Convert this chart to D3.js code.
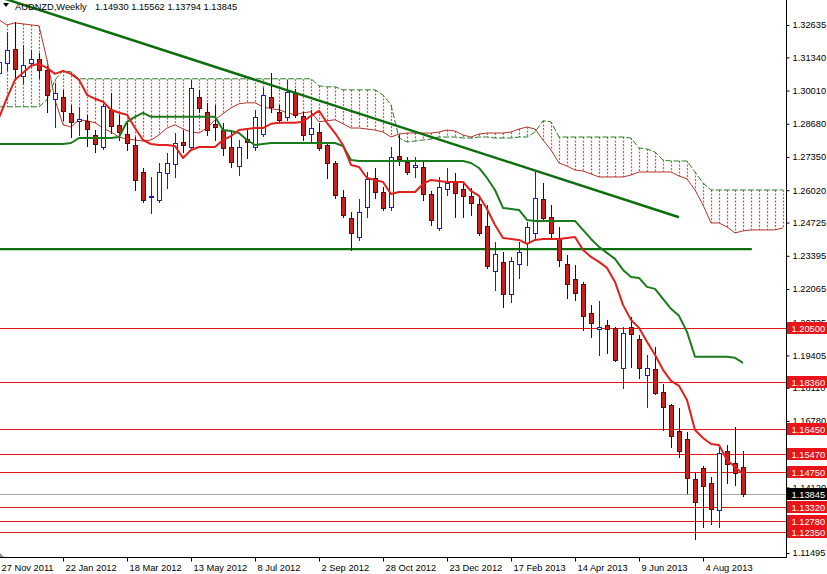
<!DOCTYPE html>
<html><head><meta charset="utf-8">
<script src="https://cdn.jsdelivr.net/npm/d3@7"></script>
<style>body{margin:0;background:#fff;} svg{display:block;}</style>
</head><body><svg id="c" width="827" height="574"></svg>
<script>
const symbolTitle = "AUDNZD,Weekly";
const lastQuote = "1.14930 1.15562 1.13794 1.13845";

const open = [1.3072,1.3112,1.3168,1.3060,1.3112,1.3128,1.3084,1.2968,1.2976,1.2912,
1.2880,1.2880,1.2823,1.2775,1.2924,1.2864,1.2827,1.2783,1.2675,1.2575,
1.2563,1.2671,1.2707,1.2795,1.2775,1.2976,1.2916,1.2868,1.2843,1.2775,
1.2699,1.2807,1.2775,1.2827,1.2976,1.2916,1.2896,1.2992,1.2900,1.2827,
1.2835,1.2783,1.2711,1.2575,1.2491,1.2415,1.2535,1.2651,1.2595,1.2535,
1.2739,1.2715,1.2695,1.2695,1.2587,1.2451,1.2607,1.2635,1.2607,1.2579,
1.2547,1.2459,1.2279,1.2315,1.2187,1.2307,1.2391,1.2431,1.2567,1.2495,
1.2411,1.2307,1.2247,1.2227,1.2111,1.2047,1.2063,1.2051,1.1891,1.2055,
1.2007,1.1862,1.1887,1.1794,1.1742,1.1638,1.1606,1.1446,1.1490,1.1430,
1.1322,1.1558,1.1510,1.14930];
const high = [1.3144,1.3236,1.3276,1.3184,1.3164,1.3152,1.3100,1.3032,1.3004,1.2944,
1.2936,1.2904,1.2843,1.2948,1.2992,1.2904,1.2872,1.2815,1.2691,1.2655,
1.2711,1.2751,1.2831,1.2843,1.3044,1.3004,1.2952,1.2944,1.2872,1.2843,
1.2803,1.2843,1.2924,1.3012,1.3072,1.2944,1.3044,1.3008,1.2916,1.2924,
1.2872,1.2795,1.2719,1.2603,1.2515,1.2567,1.2675,1.2691,1.2615,1.2775,
1.2823,1.2735,1.2735,1.2715,1.2599,1.2655,1.2691,1.2671,1.2635,1.2611,
1.2575,1.2543,1.2395,1.2355,1.2335,1.2395,1.2475,1.2675,1.2631,1.2543,
1.2455,1.2343,1.2303,1.2235,1.2143,1.2159,1.2083,1.2055,1.2055,1.2095,
1.2023,1.1943,1.1975,1.1826,1.1746,1.1730,1.1634,1.1470,1.1498,1.1454,
1.1574,1.1582,1.1654,1.15562];
const low = [1.3052,1.3084,1.3052,1.3032,1.3100,1.3052,1.2916,1.2855,1.2884,1.2815,
1.2823,1.2779,1.2755,1.2767,1.2831,1.2803,1.2763,1.2603,1.2555,1.2511,
1.2555,1.2611,1.2655,1.2755,1.2771,1.2916,1.2823,1.2803,1.2743,1.2695,
1.2663,1.2731,1.2763,1.2819,1.2916,1.2872,1.2884,1.2896,1.2803,1.2795,
1.2763,1.2651,1.2571,1.2495,1.2363,1.2403,1.2495,1.2571,1.2523,1.2523,
1.2703,1.2667,1.2655,1.2563,1.2463,1.2443,1.2583,1.2495,1.2495,1.2503,
1.2423,1.2291,1.2203,1.2135,1.2155,1.2251,1.2303,1.2403,1.2483,1.2411,
1.2299,1.2171,1.2163,1.2043,1.2015,1.1943,1.1951,1.1919,1.1810,1.1895,
1.1850,1.1734,1.1786,1.1642,1.1574,1.1534,1.1390,1.1206,1.1254,1.1266,
1.1254,1.1430,1.1422,1.13794];
const close = [1.3116,1.3164,1.3088,1.3104,1.3128,1.3084,1.2984,1.2992,1.2920,1.2876,
1.2888,1.2847,1.2787,1.2940,1.2859,1.2835,1.2791,1.2643,1.2563,1.2579,
1.2675,1.2711,1.2791,1.2783,1.3012,1.2932,1.2843,1.2855,1.2771,1.2715,
1.2775,1.2795,1.2896,1.2984,1.2936,1.2884,1.2996,1.2904,1.2823,1.2851,
1.2771,1.2711,1.2583,1.2503,1.2431,1.2515,1.2647,1.2595,1.2531,1.2735,
1.2727,1.2675,1.2703,1.2587,1.2483,1.2615,1.2631,1.2591,1.2579,1.2551,
1.2431,1.2299,1.2347,1.2187,1.2319,1.2355,1.2455,1.2571,1.2491,1.2431,
1.2323,1.2227,1.2191,1.2099,1.2071,1.2055,1.2047,1.1923,1.2031,1.2027,
1.1891,1.1891,1.1790,1.1734,1.1618,1.1558,1.1450,1.1354,1.1418,1.1326,
1.1550,1.1506,1.1470,1.13845];

const tenkan = [1.2892,1.2972,1.3044,1.3072,1.3100,1.3108,1.3092,1.3068,1.3080,1.3068,
1.3044,1.2984,1.2968,1.2956,1.2924,1.2912,1.2904,1.2851,1.2803,1.2787,
1.2783,1.2783,1.2779,1.2731,1.2763,1.2775,1.2775,1.2775,1.2803,1.2819,
1.2843,1.2847,1.2851,1.2851,1.2868,1.2872,1.2872,1.2872,1.2876,1.2900,
1.2920,1.2872,1.2831,1.2783,1.2703,1.2695,1.2651,1.2643,1.2635,1.2587,
1.2595,1.2595,1.2595,1.2627,1.2643,1.2639,1.2635,1.2635,1.2635,1.2599,
1.2579,1.2527,1.2463,1.2411,1.2407,1.2403,1.2387,1.2403,1.2407,1.2407,
1.2407,1.2411,1.2415,1.2363,1.2335,1.2315,1.2291,1.2235,1.2143,1.2083,
1.2051,1.1995,1.1943,1.1883,1.1839,1.1819,1.1762,1.1642,1.1610,1.1586,
1.1582,1.1522,1.1494,1.1466];

const kijun = [1.2787,1.2787,1.2787,1.2787,1.2787,1.2787,1.2787,1.2787,1.2787,1.2791,
1.2811,1.2811,1.2811,1.2811,1.2811,1.2815,1.2876,1.2896,1.2912,1.2896,
1.2896,1.2896,1.2896,1.2896,1.2896,1.2896,1.2896,1.2896,1.2843,1.2839,
1.2831,1.2803,1.2783,1.2787,1.2791,1.2791,1.2791,1.2791,1.2791,1.2791,
1.2791,1.2791,1.2791,1.2779,1.2723,1.2719,1.2719,1.2719,1.2719,1.2719,
1.2719,1.2719,1.2719,1.2719,1.2719,1.2719,1.2719,1.2719,1.2719,1.2711,
1.2691,1.2651,1.2603,1.2531,1.2527,1.2523,1.2483,1.2479,1.2479,1.2479,
1.2479,1.2479,1.2479,1.2443,1.2407,1.2375,1.2351,1.2327,1.2283,1.2255,
1.2251,1.2215,1.2207,1.2167,1.2127,1.2099,1.2035,1.1935,1.1935,1.1935,
1.1935,1.1935,1.1931,1.1911];

const spanGreen = [1.2936,1.2936,1.2936,1.2936,1.2936,1.2936,1.2964,1.3044,1.3080,1.3076,
1.3048,1.3048,1.3048,1.3048,1.3048,1.3048,1.3048,1.3048,1.3048,1.3048,
1.3048,1.3048,1.3048,1.3048,1.3048,1.3048,1.3048,1.3048,1.3048,1.3048,
1.3048,1.3048,1.3048,1.3048,1.3048,1.3048,1.3048,1.3048,1.3048,1.3048,
1.3020,1.3016,1.3016,1.3004,1.3004,1.3004,1.3004,1.3004,1.2984,1.2944,
1.2811,1.2795,1.2799,1.2803,1.2807,1.2815,1.2815,1.2815,1.2811,1.2811,
1.2815,1.2815,1.2811,1.2811,1.2811,1.2815,1.2815,1.2835,1.2880,1.2876,
1.2815,1.2815,1.2815,1.2815,1.2815,1.2815,1.2815,1.2815,1.2815,1.2811,
1.2771,1.2767,1.2755,1.2723,1.2719,1.2719,1.2719,1.2675,1.2631,1.2603,
1.2603,1.2603,1.2603,1.2603,1.2603,1.2603,1.2603,1.2603,1.2603];

const spanRed = [1.3284,1.3264,1.3272,1.3268,1.3264,1.3260,1.3124,1.2964,1.2864,1.2855,
1.2884,1.2880,1.2872,1.2851,1.2835,1.2815,1.2807,1.2803,1.2799,1.2803,
1.2823,1.2851,1.2864,1.2847,1.2835,1.2831,1.2851,1.2884,1.2908,1.2932,
1.2948,1.2952,1.2952,1.2936,1.2928,1.2924,1.2912,1.2904,1.2912,1.2916,
1.2876,1.2880,1.2884,1.2868,1.2851,1.2851,1.2847,1.2843,1.2835,1.2815,
1.2827,1.2831,1.2831,1.2831,1.2831,1.2835,1.2843,1.2839,1.2823,1.2815,
1.2827,1.2831,1.2831,1.2831,1.2835,1.2847,1.2855,1.2847,1.2803,1.2763,
1.2711,1.2699,1.2683,1.2679,1.2667,1.2655,1.2655,1.2655,1.2655,1.2663,
1.2675,1.2675,1.2675,1.2675,1.2675,1.2659,1.2647,1.2603,1.2543,1.2471,
1.2471,1.2455,1.2431,1.2439,1.2443,1.2443,1.2443,1.2443,1.2451];

const dateLabels = ["27 Nov 2011","22 Jan 2012","18 Mar 2012","13 May 2012","8 Jul 2012","2 Sep 2012",
  "28 Oct 2012","23 Dec 2012","17 Feb 2013","14 Apr 2013","9 Jun 2013","4 Aug 2013"];
const dateLabelBars = [0,8,16,24,32,40,48,56,64,72,80,88];

const priceTicks = [1.32635,1.31340,1.30010,1.28680,1.27350,1.26020,1.24725,1.23395,1.22065,
  1.20735,1.19405,1.18110,1.16780,1.14120,1.11495];
const levels = [1.2050,1.1836,1.1645,1.1547,1.1475,1.1332,1.1278,1.1235];
const lastPrice = 1.13845;
const supportLevel = 1.2366;
const supportEndBar = 94.1;
const trendBars = [0,85];
const trendPrices = [1.3376,1.2494];

// ---------- drawing ----------
const W = 827, H = 574, plotR = 786, plotB = 557;
const FONT = "'Liberation Sans', Arial, sans-serif";
const svg = d3.select("#c");
const x = d3.scaleLinear().domain([0, 93]).range([-1, 743]);
const y = d3.scaleLinear().domain([1.11495, 1.32635]).range([553, 25]);
const px = i => Math.round(x(i));

svg.append("rect").attr("width", W).attr("height", H).attr("fill", "#fff");
svg.append("defs").append("clipPath").attr("id", "plot")
  .append("rect").attr("x", 0).attr("y", 0).attr("width", plotR).attr("height", plotB);
const g = svg.append("g").attr("clip-path", "url(#plot)");

// cloud hatch (dotted verticals at every bar)
const hatch = g.append("g");
d3.range(spanGreen.length).forEach(i => {
  const up = spanGreen[i] >= spanRed[i];
  hatch.append("line")
    .attr("x1", px(i) + 0.5).attr("x2", px(i) + 0.5)
    .attr("y1", Math.round(y(Math.max(spanGreen[i], spanRed[i]))))
    .attr("y2", Math.round(y(Math.min(spanGreen[i], spanRed[i]))))
    .attr("stroke", up ? "#e8552a" : "#5f8a5f")
    .attr("stroke-width", 1.2)
    .attr("stroke-dasharray", "2 1.5");
});

const line = d3.line().x((d, i) => x(i)).y(d => y(d));
g.append("path").attr("d", line(spanRed)).attr("fill", "none")
  .attr("stroke", "#b8322a").attr("stroke-width", 1);
g.append("path").attr("d", line(spanGreen)).attr("fill", "none")
  .attr("stroke", "#2a7f2a").attr("stroke-width", 1).attr("stroke-dasharray", "6,2");

// horizontal levels
g.append("g").selectAll("line").data(levels).join("line")
  .attr("x1", 0).attr("x2", plotR)
  .attr("y1", d => Math.round(y(d)) + 0.5).attr("y2", d => Math.round(y(d)) + 0.5)
  .attr("stroke", "#e01818").attr("stroke-width", 1);
g.append("line").attr("x1", 0).attr("x2", plotR)
  .attr("y1", Math.round(y(lastPrice)) + 0.5).attr("y2", Math.round(y(lastPrice)) + 0.5)
  .attr("stroke", "#a8a8a8").attr("stroke-width", 1);

// support line
g.append("line").attr("x1", 0).attr("x2", x(supportEndBar))
  .attr("y1", y(supportLevel)).attr("y2", y(supportLevel))
  .attr("stroke", "#0d6e0d").attr("stroke-width", 2.2);

// candles
const idx = d3.range(open.length);
const cg = g.append("g").attr("shape-rendering", "crispEdges");
cg.selectAll("line").data(idx).join("line")
  .attr("x1", i => px(i) + 0.5).attr("x2", i => px(i) + 0.5)
  .attr("y1", i => Math.round(y(high[i]))).attr("y2", i => Math.round(y(low[i])) + 1)
  .attr("stroke", i => close[i] >= open[i] ? "#1e1ea8" : "#2a0a0a");
cg.selectAll("rect").data(idx).join("rect")
  .attr("x", i => px(i) - 1.5)
  .attr("width", 4)
  .attr("y", i => Math.round(y(Math.max(open[i], close[i]))) + 0.5)
  .attr("height", i => Math.max(1, Math.round(Math.abs(y(open[i]) - y(close[i])))))
  .attr("fill", i => close[i] >= open[i] ? "#ffffff" : "#c8201e")
  .attr("stroke", i => close[i] >= open[i] ? "#1e1ea8" : "#5a0c0c")
  .attr("stroke-width", 1);

// Kijun & Tenkan
g.append("path").attr("d", line(kijun)).attr("fill", "none")
  .attr("stroke", "#1b7a1b").attr("stroke-width", 2).attr("stroke-linejoin", "round");
g.append("path").attr("d", line(tenkan)).attr("fill", "none")
  .attr("stroke", "#e0201c").attr("stroke-width", 2).attr("stroke-linejoin", "round");

// trend line
g.append("line")
  .attr("x1", x(trendBars[0])).attr("y1", y(trendPrices[0]))
  .attr("x2", x(trendBars[1])).attr("y2", y(trendPrices[1]))
  .attr("stroke", "#0d6e0d").attr("stroke-width", 2.5);

// title
svg.append("path").attr("d", "M3,3L9,3L6,7Z").attr("fill", "#000");
svg.append("text").attr("x", 15).attr("y", 9.5).attr("font-family", FONT).attr("font-size", 9.3)
  .attr("fill", "#000").text(symbolTitle);
svg.append("text").attr("x", 95).attr("y", 9.5).attr("font-family", FONT).attr("font-size", 9.3)
  .attr("fill", "#000").text(lastQuote);

// right axis
const yAxis = d3.axisRight(y).tickValues(priceTicks).tickFormat(d3.format(".5f"))
  .tickSize(3).tickPadding(3);
const ya = svg.append("g").attr("transform", `translate(${plotR + 0.5},0)`).call(yAxis);
ya.select(".domain").remove();
ya.attr("font-family", FONT).attr("font-size", 9.3);
ya.selectAll("text").attr("fill", "#000");
ya.selectAll("line").attr("stroke", "#000");

// bottom axis
const xAxis = d3.axisBottom(x).tickValues(dateLabelBars).tickFormat((d, i) => dateLabels[i])
  .tickSize(4).tickPadding(3);
const xa = svg.append("g").attr("transform", `translate(0,${plotB + 0.5})`).call(xAxis);
xa.select(".domain").remove();
xa.attr("font-family", FONT).attr("font-size", 9.3);
xa.selectAll("text").attr("text-anchor", "start").attr("dx", 2).attr("fill", "#000");
xa.selectAll("line").attr("stroke", "#000");

// axis frame lines
svg.append("line").attr("x1", plotR + 0.5).attr("x2", plotR + 0.5).attr("y1", 0).attr("y2", plotB + 1)
  .attr("stroke", "#000");
svg.append("line").attr("x1", 0).attr("x2", plotR + 1).attr("y1", plotB + 0.5).attr("y2", plotB + 0.5)
  .attr("stroke", "#000");
svg.append("path").attr("d", `M0,${plotB - 4}L0,${plotB}L4,${plotB}Z`).attr("fill", "#909090");

// price labels on right (drawn over partly hidden grid labels, as in MT4)
const lab = svg.append("g").attr("font-family", FONT).attr("font-size", 9.3);
const boxes = levels.map(v => ({v, c: "#e8141a"})).concat([{v: lastPrice, c: "#000"}]);
lab.selectAll("rect").data(boxes).join("rect")
  .attr("x", plotR + 1).attr("width", W - plotR - 1)
  .attr("y", d => Math.round(y(d.v)) - 6).attr("height", 12)
  .attr("fill", d => d.c);
lab.selectAll("text").data(boxes).join("text")
  .attr("x", plotR + 5.5).attr("y", d => Math.round(y(d.v)) + 3.5)
  .attr("fill", "#fff").text(d => d3.format(".5f")(d.v));
</script>
</body></html>
